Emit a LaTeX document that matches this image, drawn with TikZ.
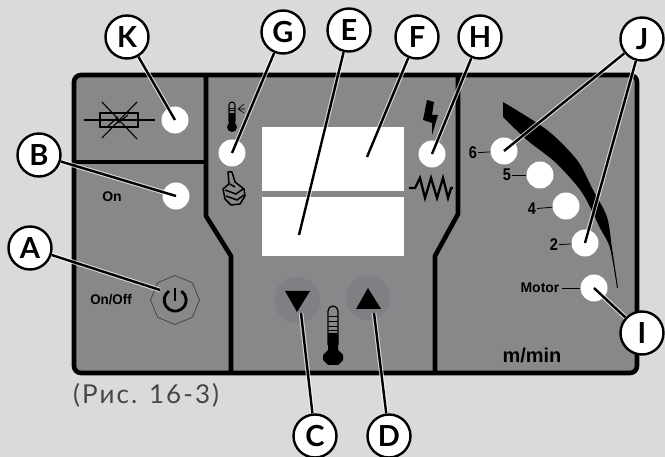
\documentclass[tikz,border=0pt]{standalone}
\usepackage{fontspec}
\usetikzlibrary{shapes.geometric}
\setmainfont{Lato}
\newfontfamily\panelfont{Liberation Sans}
\definecolor{paper}{HTML}{D9DADC}
\definecolor{panel}{HTML}{87888A}
\definecolor{halo}{HTML}{7F8083}
\tikzset{
  callout/.style={circle,draw=black,line width=2.4pt,fill=white,minimum size=43pt,inner sep=0pt,
    font=\fontsize{29}{29}\selectfont\bfseries},
  led/.style={circle,fill=white,minimum size=27pt,inner sep=0pt},
  lead/.style={line width=2.4pt,preaction={draw=white,line width=4.6pt,opacity=0.65}},
  panelline/.style={line width=4.6pt,line join=round},
  paneltext/.style={inner sep=0.5pt,font=\panelfont\bfseries\fontsize{14}{14}\selectfont},
  digit/.style={inner sep=1pt,font=\panelfont\bfseries\fontsize{17}{17}\selectfont,xscale=0.85},
  tick/.style={line width=0.8pt},
}
\begin{document}
\begin{tikzpicture}[x=1pt,y=-1pt]
  \useasboundingbox (0,0) rectangle (665,457);
  \fill[paper] (0,0) rectangle (665,457);
  % panel
  \draw[panelline,fill=panel,rounded corners=7pt] (74,75) rectangle (637,373);
  \draw[panelline] (206,75) -- (206,216) -- (231,256) -- (231,373);
  \draw[panelline] (458,75) -- (458,214) -- (435,256) -- (435,373);
  \draw[panelline] (74,162) -- (206,162);
  % display
  \fill[white] (262,127) rectangle (404,191);
  \fill[white] (262,197) rectangle (404,256);
  % crossed out heater
  \draw[line width=1.2pt] (84,120) -- (155,120);
  \draw[line width=1.5pt] (100,113) rectangle (138,127);
  \draw[line width=1.1pt] (102,102) -- (137,139);
  \draw[line width=1.1pt] (102,138) -- (137,102);
  \draw[line width=1.1pt] (108,126) -- (118,117) (118,123) -- (128,115);
  % small thermometer
  \draw[line width=1.1pt] (229,105) arc (180:360:3) -- (235,122) (229,105) -- (229,122);
  \fill (232,127) circle (5);
  \fill (229,113) rectangle (235,124);
  \draw[line width=0.6pt] (229,108) -- (235,108) (229,110.5) -- (235,110.5);
  \draw[line width=0.6pt] (244,104) -- (238,109) -- (244,113) (238,109) -- (245,109);
  % hand
  \draw[line width=1.5pt,line join=round,fill=panel] (228,172) -- (232,172) -- (235,182) -- (244,189) -- (245,196)
    -- (240,204) -- (231,205) -- (225,199) -- (223,189) -- (229,184) -- cycle;
  \draw[line width=1.5pt] (225,190) -- (236,194) -- (243,189) (226,196) -- (237,200) -- (244,195) (230,184) -- (235,187);
  % bolt
  \fill (427,100) -- (434,102) -- (432,115) -- (438,115) -- (432,135) -- (432,123) -- (423,120) -- cycle;
  % resistor
  \draw[line width=2.3pt,line join=miter] (409,188) -- (415,188) -- (420,178) -- (425,198) -- (431,178)
    -- (437,198) -- (443,178) -- (448,198) -- (451,188) -- (453,188);
  % speed wedge
  \fill plot[smooth] coordinates {(503,102) (547,130) (577,160) (593,190) (607,217) (612,248) (618,288)}
    -- plot[smooth] coordinates {(617,288) (610,248) (600,228) (588,203) (578,187) (555,162) (527,140) (503,117)} -- cycle;
  % large thermometer
  \draw[line width=1.2pt] (328,311) arc (180:360:5) -- (338,345) (328,311) -- (328,345);
  \draw[line width=0.7pt] (328,316) -- (338,316) (328,321) -- (338,321) (328,326) -- (338,326) (328,330) -- (338,330);
  \fill (328,333) -- (338,333) -- (338,350) -- (343,355) -- (343,360) -- (338,365) -- (328,365) -- (323,360) -- (323,355) -- (328,350) -- cycle;
  % arrow buttons
  \fill[halo] (297,300) circle (23);
  \fill[halo] (368,298) circle (22);
  \fill (285,291) -- (310,291) -- (297,312) -- cycle;
  \fill (368,288) -- (381,309) -- (356,309) -- cycle;
  % power button
  \node[regular polygon,regular polygon sides=8,shape border rotate=22.5,draw=black!75,line width=0.7pt,minimum size=49pt,inner sep=0pt] (power) at (175,300) {};
  \draw[line width=2.8pt] (169,291) arc (-124:-416:11);
  \draw[line width=2.8pt] (175,288) -- (175,301);
  % lamps
  \node[led] (ledK) at (175,120) {};
  \node[led] (ledB) at (176,196) {};
  \node[led] (ledG) at (232,153) {};
  \node[led] (ledH) at (432,154) {};
  \node[led] (led6) at (504,151) {};
  \node[led] (led5) at (540,175) {};
  \node[led] (led4) at (566,206) {};
  \node[led] (led2) at (585,243) {};
  \node[led] (ledI) at (594,288) {};
  % panel labels
  \node[paneltext] (labOn) at (112,197) {On};
  \node[paneltext,xscale=0.95] (labOnOff) at (111,300) {On/Off};
  \node[digit] (lab6) at (473,153) {6};
  \node[digit] (lab5) at (507,175) {5};
  \node[digit] (lab4) at (532,209) {4};
  \node[digit] (lab2) at (554,245) {2};
  \node[paneltext,inner sep=2pt] (labMotor) at (540,288) {Motor};
  \node[inner sep=0pt,font=\panelfont\bfseries\fontsize{20}{20}\selectfont] (labMin) at (532,355) {m/min};
  \draw[tick] (lab6) -- (led6);
  \draw[tick] (lab5) -- (led5);
  \draw[tick] (lab4) -- (led4);
  \draw[tick] (lab2) -- (led2);
  \draw[tick] (labMotor) -- (ledI);
  % callouts
  \node[callout] (K) at (127,37) {K};
  \node[callout] (G) at (283,32) {G};
  \node[callout] (E) at (349,30) {E};
  \node[callout] (F) at (417,37) {F};
  \node[callout] (H) at (480,37) {H};
  \node[callout] (J) at (642,39) {J};
  \node[callout] (B) at (39,155) {B};
  \node[callout] (A) at (30,248) {A};
  \node[callout] (I) at (642,333) {I};
  \node[callout] (C) at (315,436) {C};
  \node[callout] (D) at (389,436) {D};
  \coordinate (endE) at (299,235);
  \coordinate (endF) at (367,157);
  \coordinate (endC) at (301,313);
  \coordinate (endD) at (374,313);
  \coordinate (endA) at (160,290);
  \draw[lead] (K) -- (ledK.center);
  \draw[lead] (G) -- (ledG.center);
  \draw[lead] (E) -- (endE);
  \draw[lead] (F) -- (endF);
  \draw[lead] (H) -- (ledH.center);
  \draw[lead] (J) -- (led6.center);
  \draw[lead] (J) -- (led2.center);
  \draw[lead] (B) -- (ledB.center);
  \draw[lead] (A) -- (endA);
  \draw[lead] (I) -- (ledI.center);
  \draw[lead] (C) -- (endC);
  \draw[lead] (D) -- (endD);
  % caption
  \node[anchor=west,inner sep=0pt,text=black!72,font=\fontsize{26}{26}\selectfont\addfontfeatures{LetterSpace=8}] (caption) at (73,395) {(Рис. 16-3)};
\end{tikzpicture}
\end{document}
